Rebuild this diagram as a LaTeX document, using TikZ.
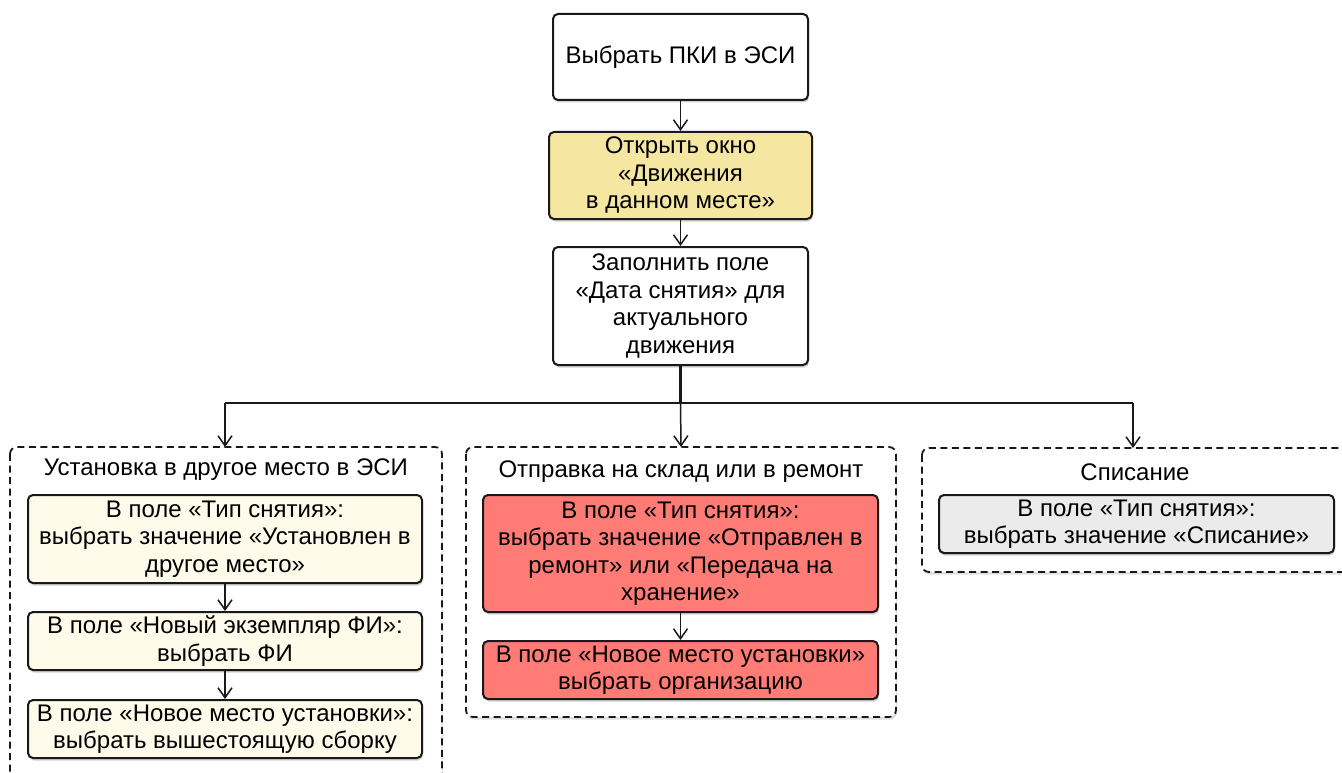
\documentclass[tikz,border=0pt]{standalone}
\usepackage{fontspec}
\setmainfont{Liberation Sans}
\usetikzlibrary{arrows.meta,shadows}
\definecolor{yel}{RGB}{245,230,162}
\definecolor{cream}{RGB}{255,251,234}
\definecolor{salmon}{RGB}{255,124,118}
\definecolor{lgray}{RGB}{235,235,235}
\definecolor{ink}{RGB}{25,25,25}
\tikzset{
  box/.style={draw=ink,line width=2pt,rounded corners=5pt,align=center,
    inner sep=0pt,font=\fontsize{24}{27.5}\selectfont,
    drop shadow={opacity=0.35,shadow xshift=1pt,shadow yshift=-2.5pt}},
  grp/.style={draw=ink,line width=1.8pt,dash pattern=on 7pt off 4.5pt,rounded corners=7pt,
    drop shadow={opacity=0.25,shadow xshift=1pt,shadow yshift=-2.5pt},fill=white},
  ttl/.style={font=\fontsize{24}{27}\selectfont,inner sep=0pt},
  arr/.style={draw=ink,line width=1.5pt,-{Straight Barb[length=10pt,width=14pt,line width=1.5pt]}}
}
\begin{document}
\begin{tikzpicture}[x=1pt,y=-1pt]
\useasboundingbox (0,0) rectangle (1342,773);
\clip (0,0) rectangle (1342,773);
\fill[white] (0,0) rectangle (1342,773);
% groups
\draw[grp] (10,447) rectangle (442,795);
\draw[grp] (466,447) rectangle (896,717);
\draw[grp] (922,448) rectangle (1365,572);
\node[ttl] (tL) at (226,470) {Установка в другое место в ЭСИ};
\node[ttl] (tM) at (681,472) {Отправка на склад или в ремонт};
\node[ttl] (tR) at (1135,472) {Списание};
\coordinate (gL) at (225,447);
\coordinate (gM) at (681,447);
\coordinate (gR) at (1133,448);
% top boxes
\node[box,fill=white,minimum width=255pt,minimum height=86pt] (b1) at (680.5,57) {Выбрать ПКИ в ЭСИ};
\node[box,fill=yel,minimum width=263pt,minimum height=87pt] (b2) at (680.5,175.5) {Открыть окно\\«Движения\\в данном месте»};
\node[box,fill=white,minimum width=255pt,minimum height=118pt] (b3) at (680.5,306) {Заполнить поле\\«Дата снятия» для\\актуального\\движения};
% left boxes
\node[box,fill=cream,minimum width=394pt,minimum height=88pt] (l1) at (225,539) {В поле «Тип снятия»:\\выбрать значение «Установлен в\\другое место»};
\node[box,fill=cream,minimum width=394pt,minimum height=58pt] (l2) at (225,641) {В поле «Новый экземпляр ФИ»:\\выбрать ФИ};
\node[box,fill=cream,minimum width=394pt,minimum height=58pt] (l3) at (225,729) {В поле «Новое место установки»:\\выбрать вышестоящую сборку};
% middle boxes
\node[box,fill=salmon,minimum width=395pt,minimum height=117pt] (m1) at (680.5,553.5) {В поле «Тип снятия»:\\выбрать значение «Отправлен в\\ремонт» или «Передача на\\хранение»};
\node[box,fill=salmon,minimum width=395pt,minimum height=58pt] (m2) at (680.5,670) {В поле «Новое место установки»\\выбрать организацию};
% right box
\node[box,fill=lgray,minimum width=395pt,minimum height=58pt] (r1) at (1136.5,524) {В поле «Тип снятия»:\\выбрать значение «Списание»};
% connectors
\draw[arr] (b1) -- (b2);
\draw[arr] (b2) -- (b3);
\coordinate (hub) at (680.5,403);
\draw[ink,line width=3.2pt] (b3.south) -- (hub);
\draw[ink,line width=1.5pt] (gL |- hub) -- (gR |- hub);
\draw[arr] (gL |- hub) -- (gL);
\draw[arr] (hub) -- (gM);
\draw[arr] (gR |- hub) -- (gR);
\draw[arr] (l1) -- (l2);
\draw[arr] (l2) -- (l3);
\draw[arr] (m1) -- (m2);
\end{tikzpicture}
\end{document}
